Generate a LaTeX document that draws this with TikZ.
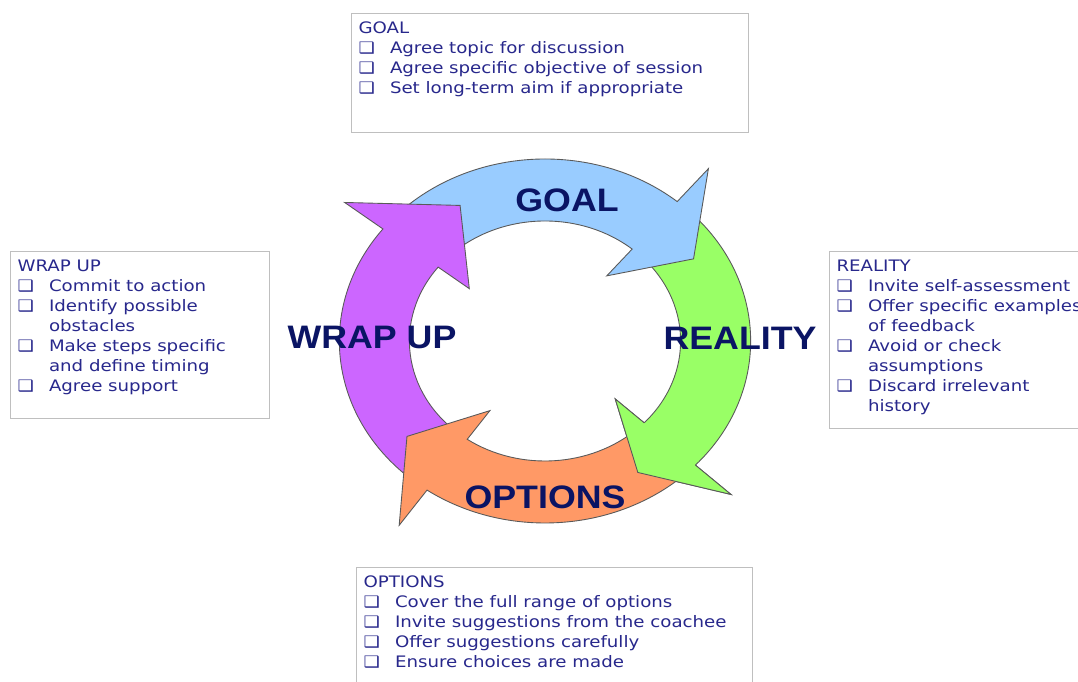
\documentclass[tikz,border=0pt]{standalone}
\usepackage{fontspec}
\setmainfont{DejaVu Sans}
\newfontfamily\boxfont[FakeStretch=1.15]{DejaVu Sans}
\newfontfamily\labelfont[FakeStretch=1.1]{Liberation Sans}
\usetikzlibrary{positioning}
\definecolor{navytext}{RGB}{40,40,140}
\definecolor{navylabel}{RGB}{10,20,100}
\definecolor{goalblue}{RGB}{153,204,255}
\definecolor{realgreen}{RGB}{153,255,102}
\definecolor{optorange}{RGB}{255,153,102}
\definecolor{wrappurple}{RGB}{204,102,255}
\tikzset{
  infobox/.style={draw=black!25, line width=0.6pt, anchor=north west, inner xsep=0.14cm,
                  inner ysep=0.16cm, font=\boxfont\fontsize{9}{11.4}\selectfont, text=navytext},
  ringline/.style={draw=black!65, line width=0.5pt},
  phaselab/.style={font=\labelfont\bfseries\fontsize{18.5}{22}\selectfont, text=navylabel},
}
\newcommand{\chk}{\makebox[0.63cm][l]{❑}}
\newcommand{\cont}{\hspace*{0.63cm}}
\def\rout{182}
\def\rin{120}
\def\rbarbout{225}
\def\rbarbin{85}
\def\rtip{155}
% colour, start angle, head base angle, tip angle
\newcommand{\cyclearrow}[4]{%
  \filldraw[ringline, fill=#1] (#2:\rout) arc[start angle=#2, end angle=#3, radius=\rout]
    -- (#3:\rbarbout) -- (#4:\rtip) -- (#3:\rbarbin) -- (#3:\rin)
    arc[start angle=#3, end angle=#2, radius=\rin] -- cycle;}
\newcommand{\cyclehead}[3]{%
  \fill[#1] (#2:\rout) -- (#2:\rbarbout) -- (#3:\rtip) -- (#2:\rbarbin) -- (#2:\rin) -- cycle;
  \draw[ringline] (#2:\rout) -- (#2:\rbarbout) -- (#3:\rtip) -- (#2:\rbarbin) -- (#2:\rin);}

\begin{document}
\begin{tikzpicture}[x=0.02cm,y=0.02cm]
\useasboundingbox[fill=white] (0,0) rectangle (1078,682);

% ring of four arrows
\begin{scope}[shift={(545,341)}, xscale=1.13]
\cyclearrow{realgreen}{46}{-43}{-58}
\cyclearrow{goalblue}{138}{50}{32}
\cyclearrow{wrappurple}{231}{142}{119}
\cyclearrow{optorange}{313}{235}{218}
\cyclehead{realgreen}{-43}{-58}
\end{scope}

\node[phaselab] (goallab) at (567,482) {GOAL};
\node[phaselab] (reallab) at (740,344) {REALITY};
\node[phaselab] (wraplab) at (372,345) {WRAP UP};
\node[phaselab] (optlab) at (545,185) {OPTIONS};

\node[infobox] (goalbox) at (351,669) {\parbox[t][2.06cm][t]{7.66cm}{\raggedright
  GOAL\\
  \chk Agree topic for discussion\\
  \chk Agree specific objective of session\\
  \chk Set long-term aim if appropriate}};
\node[infobox] (wrapbox) at (10,431) {\parbox[t][3.02cm][t]{4.9cm}{\raggedright
  WRAP UP\\
  \chk Commit to action\\
  \chk Identify possible\\
  \cont obstacles\\
  \chk Make steps specific\\
  \cont and define timing\\
  \chk Agree support}};
\node[infobox] (realbox) at (829,431) {\parbox[t][3.22cm][t]{5.4cm}{\raggedright
  REALITY\\
  \chk Invite self-assessment\\
  \chk Offer specific examples\\
  \cont of feedback\\
  \chk Avoid or check\\
  \cont assumptions\\
  \chk Discard irrelevant\\
  \cont history}};
\node[infobox] (optbox) at (356,115) {\parbox[t][2.34cm][t]{7.64cm}{\raggedright
  OPTIONS\\
  \chk Cover the full range of options\\
  \chk Invite suggestions from the coachee\\
  \chk Offer suggestions carefully\\
  \chk Ensure choices are made}};
\end{tikzpicture}
\end{document}
